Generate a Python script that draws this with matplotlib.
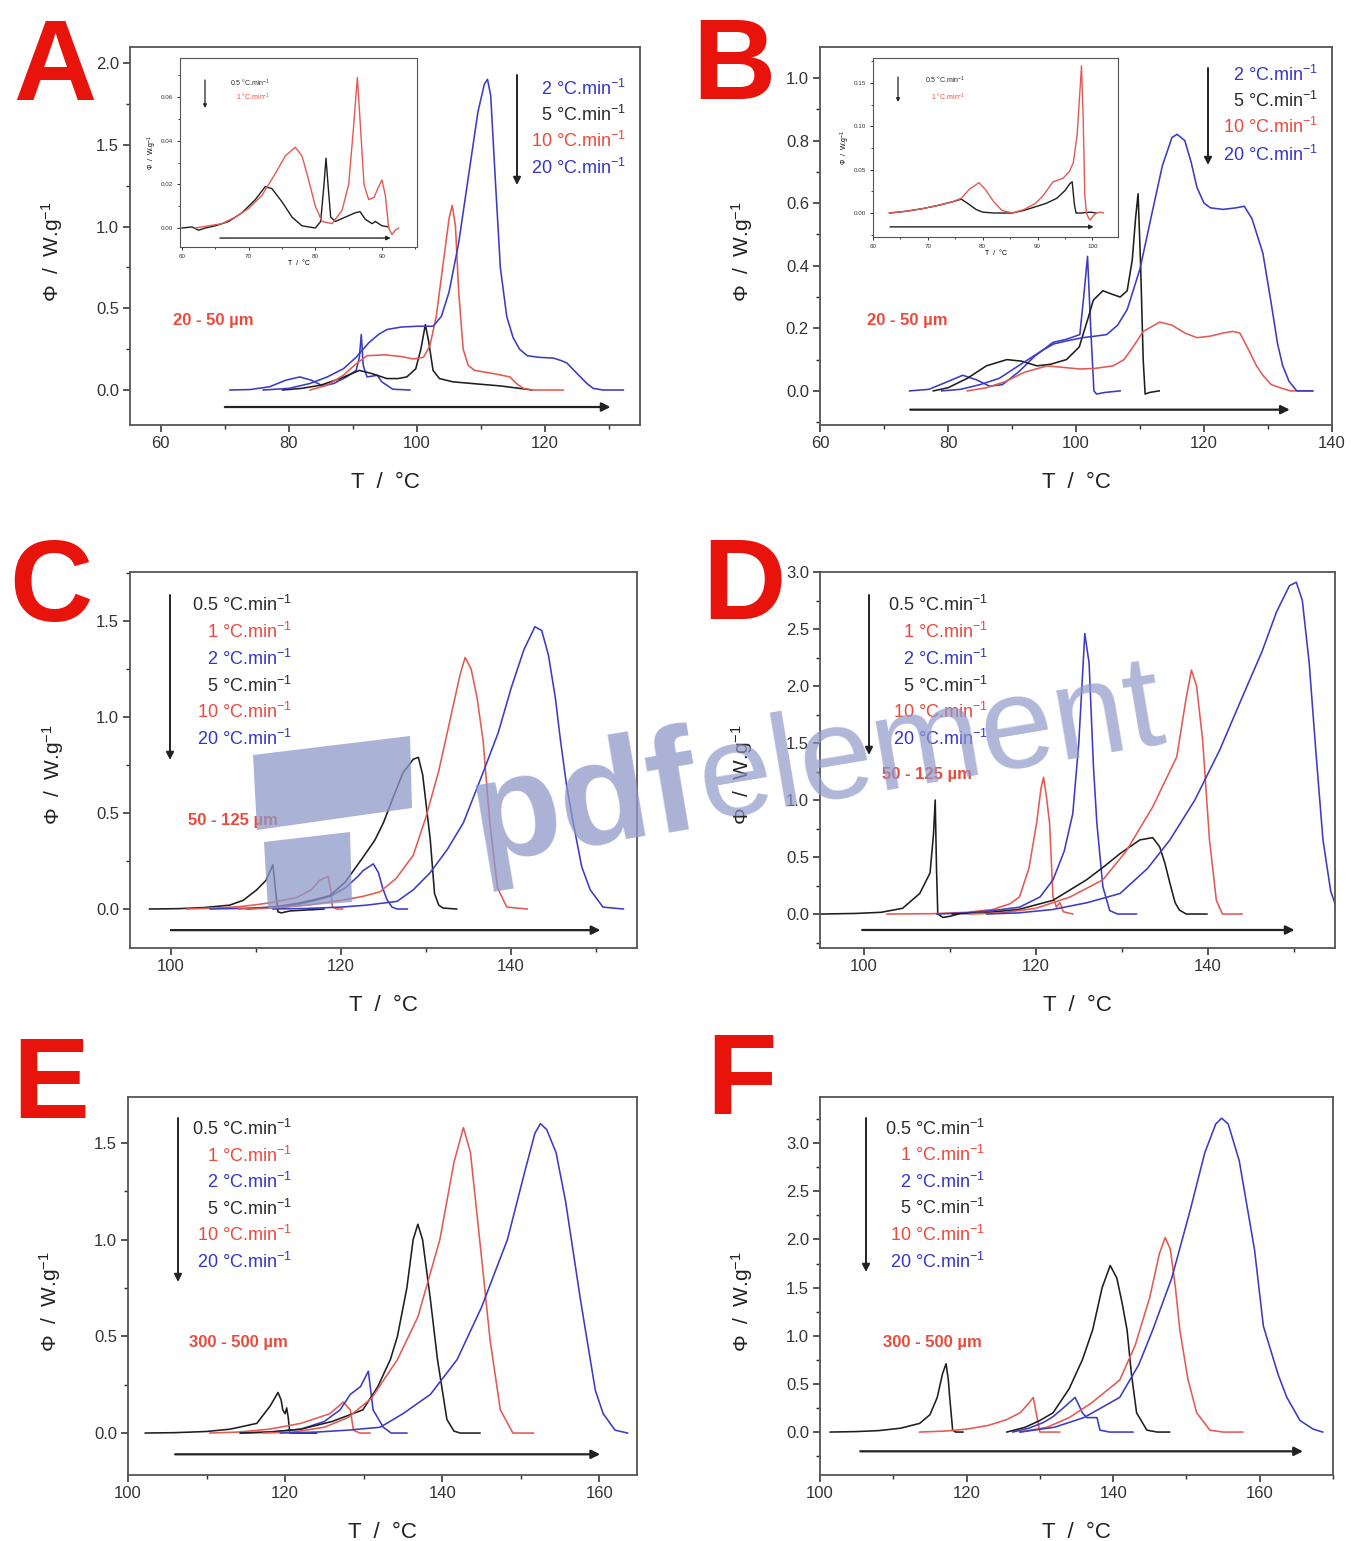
import matplotlib.pyplot as plt
from matplotlib.patches import Polygon, FancyArrowPatch
from matplotlib.ticker import MultipleLocator, FormatStrFormatter

plt.rcParams['font.family'] = ['Liberation Sans', 'DejaVu Sans']
plt.rcParams['mathtext.fontset'] = 'custom'
plt.rcParams['mathtext.rm'] = 'Liberation Sans'
plt.rcParams['mathtext.it'] = 'Liberation Sans'

# ---------------- data: (T / °C, heat flow / W.g-1) ----------------
# panel A : 20 - 50 um
a_2 = [(70.8, 0), (74, 0.003), (77, 0.02), (79.5, 0.06), (81.7, 0.08), (83.5, 0.06), (85.3, 0.025),
       (87, 0.04), (89, 0.08), (90.5, 0.12), (91.0, 0.2), (91.3, 0.34), (91.6, 0.15), (92.2, 0.08),
       (93, 0.085), (93.8, 0.09), (94.5, 0.05), (96.2, 0.005), (98.9, 0.0)]
a_5 = [(79, 0), (82, 0.01), (85, 0.03), (88, 0.07), (91, 0.12), (93, 0.1), (95.3, 0.07), (97, 0.07),
       (98.4, 0.08), (99.8, 0.13), (100.6, 0.25), (101.3, 0.40), (101.8, 0.3), (102.5, 0.12),
       (103.5, 0.07), (105.6, 0.05), (110, 0.035), (113, 0.025), (116, 0.01), (118, 0.0)]
a_10 = [(83.3, 0), (86, 0.03), (88.5, 0.09), (90.5, 0.16), (92.2, 0.21), (95, 0.215), (97.5, 0.205),
        (99.4, 0.19), (101, 0.2), (102, 0.27), (103, 0.45), (104, 0.75), (105, 1.05), (105.5, 1.13),
        (106, 1.0), (106.5, 0.6), (107.2, 0.25), (108, 0.15), (109, 0.12), (112, 0.1), (114.5, 0.08),
        (115.5, 0.04), (116.6, 0.01), (118, 0.0), (122.8, 0.0)]
a_20 = [(76, 0), (80, 0.01), (83.3, 0.04), (86, 0.08), (88.5, 0.13), (90.5, 0.2), (92.5, 0.29),
        (94, 0.34), (95.3, 0.37), (97.5, 0.385), (100, 0.39), (102.5, 0.39), (103.8, 0.45), (105, 0.6),
        (106.5, 0.9), (108, 1.3), (109.5, 1.7), (110.5, 1.87), (111, 1.9), (111.5, 1.8), (112.2, 1.3),
        (113, 0.75), (114, 0.45), (115, 0.32), (116, 0.25), (117.2, 0.21), (119, 0.2), (121.3, 0.195),
        (122.5, 0.18), (123.4, 0.165), (125, 0.1), (126.5, 0.04), (127.5, 0.01), (129, 0), (132.2, 0)]
ia_05 = [(60, 0.0), (61.5, 0.0005), (62.5, -0.001), (63.5, 0.0), (65, 0.001), (67, 0.003), (69, 0.007),
         (71, 0.013), (72.5, 0.019), (73.5, 0.018), (75, 0.012), (76.5, 0.005), (78, 0.001), (80, 0.0),
         (80.8, 0.003), (81.3, 0.02), (81.6, 0.032), (81.9, 0.02), (82.3, 0.005), (83, 0.003),
         (84.5, 0.005), (86, 0.007), (86.7, 0.0075), (87.5, 0.004), (88.5, 0.002), (89, 0.003),
         (90, 0.001), (91, 0.0005)]
ia_1 = [(62, 0), (64, 0.001), (66, 0.002), (68, 0.005), (70, 0.009), (72, 0.015), (74, 0.025),
        (75.5, 0.033), (77, 0.037), (78, 0.033), (79, 0.022), (80, 0.01), (81, 0.003), (82.5, 0.002),
        (84, 0.008), (85, 0.02), (85.7, 0.045), (86.3, 0.069), (86.8, 0.045), (87.3, 0.02), (88, 0.013),
        (88.8, 0.014), (89.5, 0.019), (90, 0.022), (90.5, 0.015), (91, 0.0), (91.5, -0.003),
        (92, -0.001), (92.5, 0.0)]

# panel B : 20 - 50 um
b_2 = [(74, 0), (77, 0.005), (80, 0.03), (82.3, 0.05), (84.5, 0.035), (86.5, 0.015), (88.5, 0.02),
       (91, 0.06), (93.5, 0.11), (96.4, 0.155), (98.5, 0.165), (100.6, 0.18), (101.2, 0.3),
       (101.8, 0.43), (102.3, 0.2), (102.8, 0.0), (103.2, -0.01), (104.5, -0.005), (106.9, 0.0)]
b_5 = [(77.7, 0), (80, 0.01), (83, 0.04), (86, 0.08), (89.2, 0.10), (91.5, 0.095), (93.9, 0.08),
       (96, 0.085), (98.5, 0.1), (100.5, 0.14), (102, 0.24), (102.7, 0.29), (104.2, 0.32), (105.5, 0.31),
       (106.9, 0.30), (108, 0.32), (108.8, 0.42), (109.3, 0.55), (109.7, 0.63), (110.1, 0.4),
       (110.5, 0.1), (110.8, -0.01), (111.5, -0.005), (113, 0.0)]
b_10 = [(83, 0), (86, 0.01), (89, 0.03), (92, 0.06), (95.5, 0.08), (98, 0.075), (100.6, 0.07),
        (103, 0.072), (105.8, 0.08), (107.5, 0.1), (108.9, 0.14), (110.5, 0.19), (113.1, 0.22),
        (115, 0.21), (117, 0.185), (118.9, 0.17), (121, 0.175), (123, 0.185), (124.5, 0.19),
        (125.6, 0.185), (127, 0.13), (128.2, 0.08), (129.2, 0.05), (130.5, 0.02), (131.9, 0.01),
        (133.5, 0.0), (137, 0.0)]
b_20 = [(79, 0), (82, 0.005), (85, 0.02), (88, 0.04), (91, 0.08), (94.4, 0.125), (96.5, 0.15),
        (98.6, 0.16), (101, 0.17), (103, 0.175), (104.8, 0.18), (106.5, 0.21), (108, 0.26), (110, 0.39),
        (112, 0.58), (113.5, 0.72), (115, 0.81), (115.8, 0.82), (117, 0.8), (118, 0.73), (118.9, 0.65),
        (120, 0.6), (121, 0.585), (123, 0.58), (125, 0.585), (126.3, 0.59), (127.5, 0.55),
        (129.2, 0.44), (130.5, 0.28), (131.5, 0.15), (132.3, 0.08), (133.3, 0.03), (134.5, 0.0),
        (137, 0.0)]
ib_05 = [(63, 0), (66, 0.002), (69, 0.005), (72, 0.009), (74.5, 0.013), (76.1, 0.016), (77.5, 0.01),
         (78.8, 0.004), (80, 0.001), (82, 0.0), (85.4, 0.0), (87.5, 0.003), (89.5, 0.007),
         (91.5, 0.011), (93.5, 0.017), (95, 0.026), (95.9, 0.034), (96.3, 0.036), (96.7, 0.01),
         (97, 0.0), (98, 0.0), (99.6, 0.001), (100.7, 0.0)]
ib_1 = [(63, 0), (66, 0.002), (69, 0.005), (72, 0.009), (74.5, 0.013), (76.1, 0.017), (77.5, 0.027),
        (79.3, 0.035), (80.5, 0.027), (82, 0.013), (83.5, 0.003), (85.4, 0.0), (87.5, 0.004),
        (89.6, 0.011), (91, 0.02), (92.8, 0.036), (94.6, 0.04), (95.8, 0.048), (96.5, 0.058),
        (97.2, 0.09), (97.7, 0.14), (98, 0.17), (98.3, 0.11), (98.6, 0.02), (98.9, 0.0),
        (99.3, -0.006), (99.6, -0.008), (100.2, -0.003), (100.7, 0.0), (101.5, 0.001), (102, 0.0)]

# panel C : 50 - 125 um
c_05 = [(97.5, 0), (101, 0.002), (104, 0.008), (106.9, 0.02), (108.5, 0.045), (110.1, 0.1),
        (111.2, 0.15), (112, 0.23), (112.3, 0.1), (112.6, -0.015), (113, -0.02), (114, -0.01),
        (116, -0.005), (118, 0.0)]
c_1 = [(101.9, 0), (105, 0.005), (108, 0.012), (110, 0.022), (112, 0.035), (114.8, 0.06),
       (116.5, 0.1), (117.5, 0.15), (118.5, 0.17), (118.8, 0.1), (119, 0.01), (119.5, 0.0), (120.2, 0.0)]
c_2 = [(104.6, 0), (108, 0.003), (111, 0.008), (112.8, 0.01), (115, 0.025), (117, 0.045),
       (118.7, 0.065), (120.5, 0.11), (122, 0.17), (122.6, 0.2), (123.8, 0.235), (124.4, 0.19),
       (124.9, 0.11), (125.4, 0.05), (126, 0.01), (126.6, 0.0), (127.8, 0.0)]
c_5 = [(109, 0), (112, 0.01), (115, 0.03), (117, 0.05), (118.7, 0.07), (120.5, 0.14), (122.6, 0.27),
       (124, 0.36), (125, 0.45), (126.3, 0.6), (127.3, 0.71), (128.5, 0.78), (129.1, 0.79),
       (129.6, 0.7), (130, 0.55), (130.5, 0.36), (131, 0.08), (131.5, 0.02), (132, 0.005), (133.6, 0.0)]
c_10 = [(108, 0), (112, 0.005), (116, 0.02), (120, 0.045), (122.5, 0.065), (124.6, 0.09),
        (126.5, 0.16), (128.5, 0.28), (130, 0.48), (131.5, 0.72), (132.8, 0.98), (134, 1.22),
        (134.6, 1.31), (135.3, 1.25), (136, 1.1), (136.7, 0.88), (137.5, 0.45), (138.4, 0.11),
        (139.5, 0.01), (141.9, 0.0)]
c_20 = [(112, 0), (116, 0.003), (120, 0.01), (123, 0.02), (126.6, 0.04), (128.5, 0.1), (130.5, 0.19),
        (132.5, 0.31), (134.4, 0.45), (136.7, 0.71), (138.5, 0.92), (140, 1.15), (141.5, 1.35),
        (142.8, 1.47), (143.6, 1.45), (144.4, 1.32), (145.2, 1.1), (145.8, 0.88), (146.5, 0.65),
        (147.3, 0.45), (148.3, 0.22), (149.3, 0.1), (150.8, 0.01), (153.2, 0)]

# panel D : 50 - 125 um
d_05 = [(95, 0), (99, 0.005), (102, 0.015), (104.5, 0.05), (106.5, 0.18), (107.7, 0.36),
        (108.1, 0.7), (108.3, 1.0), (108.45, 0.4), (108.6, 0.0), (109.2, -0.03), (110, -0.02), (111, 0.0)]
d_1 = [(102.7, 0), (108, 0.003), (112, 0.015), (115, 0.04), (117, 0.09), (118.1, 0.15), (119.2, 0.4),
       (120.1, 0.8), (120.6, 1.1), (120.9, 1.2), (121.2, 1.05), (121.6, 0.8), (122, 0.15),
       (122.4, 0.06), (122.8, 0.1), (123.2, 0.02), (124.3, 0.0)]
d_2 = [(108.5, 0), (112, 0.01), (115, 0.03), (118.1, 0.06), (120.5, 0.15), (122, 0.3), (123.3, 0.55),
       (124.3, 0.88), (125, 1.5), (125.7, 2.46), (126.2, 2.2), (126.7, 1.3), (127.1, 0.8),
       (127.8, 0.24), (128.6, 0.03), (129.5, 0.0), (131.7, 0.0)]
d_5 = [(110.3, 0), (114, 0.01), (118, 0.04), (122, 0.12), (125.9, 0.3), (128, 0.42), (129.8, 0.53),
       (132.1, 0.65), (133.6, 0.67), (134.4, 0.59), (135, 0.45), (135.6, 0.27), (136.2, 0.1),
       (136.7, 0.035), (137.5, 0.0), (139.9, 0.0)]
d_10 = [(112.3, 0), (116, 0.01), (120, 0.05), (124, 0.15), (127.8, 0.3), (130.5, 0.55), (133.6, 0.94),
        (136.4, 1.38), (137.5, 1.9), (138.1, 2.14), (138.7, 2.0), (139.4, 1.53), (140.2, 0.65),
        (141, 0.12), (141.7, 0.0), (144, 0.0)]
d_20 = [(114.3, 0), (118, 0.01), (122, 0.04), (126, 0.1), (129.8, 0.18), (133, 0.4), (135.6, 0.65),
        (138.5, 1.0), (141.4, 1.44), (144, 1.9), (146.3, 2.3), (148, 2.65), (149.5, 2.88),
        (150.3, 2.91), (151, 2.75), (151.8, 2.2), (152.6, 1.4), (153.4, 0.65), (154.3, 0.2), (155, 0.05)]

# panel E : 300 - 500 um
e_05 = [(102.2, 0), (106, 0.002), (110, 0.008), (113, 0.02), (116.4, 0.05), (118.1, 0.14),
        (119.1, 0.21), (119.5, 0.17), (119.7, 0.12), (120.0, 0.1), (120.2, 0.13), (120.4, 0.08),
        (120.6, 0.0), (122, 0.0), (124, 0.0)]
e_1 = [(110.4, 0), (114, 0.005), (118, 0.02), (122, 0.05), (125.7, 0.1), (127.4, 0.16), (128.3, 0.12),
       (128.7, 0.015), (129.5, 0.0), (130.8, 0.0)]
e_2 = [(114.3, 0), (118, 0.005), (122, 0.02), (125, 0.06), (127, 0.12), (128.3, 0.2), (129.6, 0.24),
       (130.6, 0.32), (131.2, 0.12), (132.5, 0.03), (133.5, 0.0), (135.5, 0.0)]
e_5 = [(114.3, 0), (118, 0.005), (122, 0.02), (126, 0.06), (129.9, 0.12), (131.8, 0.24), (133.4, 0.38),
       (134.3, 0.5), (135.5, 0.75), (136.3, 1.0), (136.9, 1.08), (137.5, 1.0), (138.5, 0.69),
       (139.4, 0.38), (140.6, 0.07), (141.5, 0.01), (142.3, 0.0), (144.8, 0.0)]
e_10 = [(117.2, 0), (121, 0.005), (125, 0.03), (128, 0.08), (131, 0.18), (134.3, 0.38), (136.9, 0.6),
        (139.7, 1.0), (141.5, 1.4), (142.7, 1.58), (143.6, 1.45), (144.9, 0.95), (146.1, 0.48),
        (147.4, 0.12), (149, 0.0), (151.6, 0.0)]
e_20 = [(119.4, 0), (124, 0.005), (128, 0.015), (132.1, 0.03), (135, 0.1), (138.5, 0.2), (141.9, 0.38),
        (145, 0.65), (148.3, 1.0), (150.5, 1.35), (151.8, 1.55), (152.5, 1.6), (153.3, 1.57),
        (154.5, 1.45), (155.7, 1.2), (157.6, 0.69), (159.5, 0.22), (160.5, 0.1), (162, 0.015),
        (163.6, 0.0)]

# panel F : 300 - 500 um
f_05 = [(101.4, 0), (105, 0.005), (108, 0.015), (111, 0.04), (113.6, 0.09), (115, 0.18), (116, 0.36),
        (116.7, 0.6), (117.2, 0.71), (117.5, 0.55), (117.7, 0.36), (118.1, 0.02), (118.5, 0.0),
        (119.5, 0.0)]
f_1 = [(113.6, 0), (117, 0.01), (120, 0.03), (123, 0.07), (125.5, 0.13), (127.3, 0.2), (128.5, 0.3),
       (129.1, 0.36), (129.6, 0.16), (130, 0.0), (132.7, 0.0)]
f_2 = [(126.3, 0), (128.5, 0.04), (130.5, 0.1), (131.8, 0.16), (133.5, 0.27), (134.8, 0.36),
       (135.2, 0.3), (135.8, 0.2), (136.4, 0.15), (137.8, 0.15), (138.2, 0.02), (139.5, 0.0), (142.7, 0.0)]
f_5 = [(125.5, 0), (128, 0.05), (130, 0.12), (131.8, 0.2), (134, 0.45), (135.8, 0.75), (137.2, 1.06),
       (138.5, 1.5), (139.6, 1.73), (140.5, 1.6), (141.2, 1.35), (141.9, 1.06), (142.5, 0.6),
       (143.2, 0.2), (144.6, 0.02), (146, 0.0), (147.7, 0.0)]
f_10 = [(127.3, 0), (131, 0.05), (134, 0.15), (137, 0.3), (140.9, 0.54), (143, 0.9), (145, 1.4),
        (146.3, 1.85), (147.1, 2.02), (147.8, 1.9), (148.5, 1.5), (149.1, 1.06), (150.2, 0.55),
        (151.4, 0.2), (153.2, 0.02), (155, 0.0), (157.7, 0.0)]
f_20 = [(127.3, 0), (132, 0.05), (136, 0.15), (140.9, 0.36), (143.5, 0.7), (145.4, 1.06), (148, 1.6),
        (150.5, 2.3), (152.5, 2.9), (154, 3.2), (154.8, 3.26), (155.7, 3.2), (157.2, 2.82),
        (159.3, 1.89), (160.5, 1.1), (162.5, 0.6), (163.7, 0.36), (165.5, 0.12), (167.3, 0.03),
        (168.6, 0.0)]

rates_ab = ['2', '5', '10', '20']
rates_cf = ['0.5', '1', '2', '5', '10', '20']
sizes = ['20 - 50 µm', '20 - 50 µm', '50 - 125 µm', '50 - 125 µm', '300 - 500 µm', '300 - 500 µm']

# ---------------- styling ----------------
W, H = 1351, 1541
BLACK, RED, BLUE = '#1e1e1e', '#e35a52', '#3b3bc6'
TBLACK, TRED, TBLUE = '#2a2a2a', '#ea4a3c', '#3535c8'
BIGRED = '#e8140c'
col_ab = [BLUE, BLACK, RED, BLUE]
tcol_ab = [TBLUE, TBLACK, TRED, TBLUE]
col_cf = [BLACK, RED, BLUE, BLACK, RED, BLUE]
tcol_cf = [TBLACK, TRED, TBLUE, TBLACK, TRED, TBLUE]

fig = plt.figure(figsize=(W / 100, H / 100), dpi=100)


def fx(x):
    return x / W


def fy(y):
    return 1 - y / H


def box(l, t, r, b):
    return fig.add_axes([fx(l), fy(b), (r - l) / W, (b - t) / H])


def style(ax, xlim, ylim, xmaj, xmin, ymaj, ymin, fmt, fs=12, lw=1.3, tl=5):
    ax.set_xlim(*xlim)
    ax.set_ylim(*ylim)
    ax.xaxis.set_major_locator(MultipleLocator(xmaj))
    ax.xaxis.set_minor_locator(MultipleLocator(xmin))
    ax.yaxis.set_major_locator(MultipleLocator(ymaj))
    ax.yaxis.set_minor_locator(MultipleLocator(ymin))
    ax.yaxis.set_major_formatter(FormatStrFormatter(fmt))
    ax.tick_params(which='major', direction='out', length=tl, width=lw * 0.9, labelsize=fs,
                   colors='#333333', pad=3)
    ax.tick_params(which='minor', direction='out', length=tl * 0.6, width=lw * 0.8, colors='#333333')
    for s in ax.spines.values():
        s.set_color('#555555')
        s.set_linewidth(lw)


def curves(ax, data, cols, lw=1.15):
    for d, c in zip(data, cols):
        t, y = zip(*d)
        ax.plot(t, y, color=c, lw=lw)


def harrow(ax, t1, t2, y, lw=1.6, ms=13):
    ax.annotate('', xy=(t2, y), xytext=(t1, y),
                arrowprops=dict(arrowstyle='-|>', color='#222222', lw=lw, mutation_scale=ms,
                                shrinkA=0, shrinkB=0))


def varrow(x, y1, y2, lw=1.4, ms=11):
    fig.add_artist(FancyArrowPatch((fx(x), fy(y1)), (fx(x), fy(y2)), transform=fig.transFigure,
                                   arrowstyle='-|>', mutation_scale=ms, lw=lw, color='#222222',
                                   shrinkA=0, shrinkB=0))


def legend(rates, tcols, xr, ys, fs=13):
    for r, c, y in zip(rates, tcols, ys):
        fig.text(fx(xr), fy(y), r + ' °C.min$^{-1}$', color=c, fontsize=fs, ha='right', va='center')


def labels(ax, ylab_x=-0.127, ylab_y=0.46, xlab_y=-0.125):
    ax.set_xlabel('T  /  °C', fontsize=16, color='#222222')
    ax.set_ylabel('Φ  /  W.g$^{-1}$', fontsize=15, color='#222222')
    ax.yaxis.set_label_coords(ylab_x, ylab_y)
    ax.xaxis.set_label_coords(0.5, xlab_y)


# ---------------- panel A ----------------
axA = box(130, 47, 640, 425)
style(axA, (55.2, 134.8), (-0.214, 2.098), 20, 10, 0.5, 0.25, '%.1f')
curves(axA, [a_2, a_5, a_10, a_20], col_ab)
harrow(axA, 70, 130.2, -0.104)
labels(axA)
legend(rates_ab, tcol_ab, 626, [89, 115, 141, 168])
varrow(517, 75, 185)
fig.text(fx(213), fy(321), sizes[0], color=TRED, fontsize=12, weight='bold', ha='center', va='center')

insA = box(180, 58, 417, 247)
style(insA, (59.7, 95.25), (-0.0087, 0.0779), 10, 5, 0.02, 0.01, '%.2f', fs=4.5, lw=0.8, tl=2)
curves(insA, [ia_05, ia_1], [BLACK, RED], lw=1.0)
harrow(insA, 65.7, 91.3, -0.0046, lw=1.0, ms=6)
insA.set_xlabel('T  /  °C', fontsize=5, labelpad=1)
insA.set_ylabel('Φ  /  W.g$^{-1}$', fontsize=5, labelpad=1)
fig.text(fx(270), fy(83), '0.5 °C.min$^{-1}$', color=TBLACK, fontsize=5, ha='right', va='center')
fig.text(fx(270), fy(97), '1 °C.min$^{-1}$', color=TRED, fontsize=5, ha='right', va='center')
varrow(205, 80, 108, lw=0.9, ms=5)

# ---------------- panel B ----------------
axB = box(820, 47, 1332, 425)
style(axB, (60, 140), (-0.109, 1.099), 20, 10, 0.2, 0.1, '%.1f')
curves(axB, [b_2, b_5, b_10, b_20], col_ab)
harrow(axB, 74.1, 133.4, -0.06)
labels(axB)
legend(rates_ab, tcol_ab, 1318, [75, 101, 127, 155])
varrow(1208, 68, 165)
fig.text(fx(907), fy(321), sizes[1], color=TRED, fontsize=12, weight='bold', ha='center', va='center')

insB = box(873, 58, 1118, 237)
style(insB, (60, 104.65), (-0.0277, 0.179), 10, 5, 0.05, 0.025, '%.2f', fs=4.5, lw=0.8, tl=2)
curves(insB, [ib_05, ib_1], [BLACK, RED], lw=1.0)
harrow(insB, 63.1, 100.2, -0.016, lw=1.0, ms=6)
insB.set_xlabel('T  /  °C', fontsize=5, labelpad=1)
insB.set_ylabel('Φ  /  W.g$^{-1}$', fontsize=5, labelpad=1)
fig.text(fx(965), fy(80), '0.5 °C.min$^{-1}$', color=TBLACK, fontsize=5, ha='right', va='center')
fig.text(fx(965), fy(97), '1 °C.min$^{-1}$', color=TRED, fontsize=5, ha='right', va='center')
varrow(898, 77, 102, lw=0.9, ms=5)

# ---------------- panel C ----------------
axC = box(130, 572, 637, 948)
style(axC, (95.2, 154.8), (-0.203, 1.755), 20, 10, 0.5, 0.25, '%.1f')
curves(axC, [c_05, c_1, c_2, c_5, c_10, c_20], col_cf)
harrow(axC, 100, 150.5, -0.11)
labels(axC)
legend(rates_cf, tcol_cf, 292, [605, 632, 659, 686, 712, 739])
varrow(170, 595, 760)
fig.text(fx(233), fy(820), sizes[2], color=TRED, fontsize=12, weight='bold', ha='center', va='center')

# ---------------- panel D ----------------
axD = box(820, 572, 1335, 948)
style(axD, (94.9, 154.8), (-0.298, 3.0), 20, 10, 0.5, 0.25, '%.1f')
curves(axD, [d_05, d_1, d_2, d_5, d_10, d_20], col_cf)
harrow(axD, 99.8, 150.1, -0.14)
labels(axD)
legend(rates_cf, tcol_cf, 988, [605, 632, 659, 686, 712, 739])
varrow(869, 595, 755)
fig.text(fx(927), fy(774), sizes[3], color=TRED, fontsize=12, weight='bold', ha='center', va='center')

# ---------------- panel E ----------------
axE = box(128, 1097, 637, 1475)
style(axE, (100, 164.8), (-0.217, 1.738), 20, 10, 0.5, 0.25, '%.1f')
curves(axE, [e_05, e_1, e_2, e_5, e_10, e_20], col_cf)
harrow(axE, 106, 160.1, -0.11)
labels(axE)
legend(rates_cf, tcol_cf, 292, [1129, 1156, 1182, 1209, 1235, 1262])
varrow(178, 1118, 1282)
fig.text(fx(238), fy(1342), sizes[4], color=TRED, fontsize=12, weight='bold', ha='center', va='center')

# ---------------- panel F ----------------
axF = box(820, 1097, 1333, 1475)
style(axF, (100, 170), (-0.446, 3.48), 20, 10, 0.5, 0.25, '%.1f')
curves(axF, [f_05, f_1, f_2, f_5, f_10, f_20], col_cf)
harrow(axF, 105.5, 165.9, -0.2)
labels(axF)
legend(rates_cf, tcol_cf, 985, [1129, 1155, 1182, 1208, 1235, 1262])
varrow(866, 1118, 1272)
fig.text(fx(932), fy(1342), sizes[5], color=TRED, fontsize=12, weight='bold', ha='center', va='center')

# ---------------- panel letters ----------------
for letter, x, y in [('A', 13, 100), ('B', 692, 99), ('C', 9, 621),
                     ('D', 702, 619), ('E', 12, 1118), ('F', 706, 1114)]:
    fig.text(fx(x), fy(y), letter, color=BIGRED, fontsize=83, weight='bold', ha='left', va='baseline')

# ---------------- watermark ----------------
WM = '#8e98c8'
fig.add_artist(Polygon([(fx(253), fy(755)), (fx(410), fy(736)), (fx(412), fy(808)), (fx(257), fy(830))],
                       closed=True, transform=fig.transFigure, color=WM, alpha=0.75, lw=0, zorder=5))
fig.add_artist(Polygon([(fx(264), fy(842)), (fx(350), fy(832)), (fx(352), fy(902)), (fx(268), fy(909))],
                       closed=True, transform=fig.transFigure, color=WM, alpha=0.75, lw=0, zorder=5))
fig.text(fx(478), fy(862), 'pdf', color=WM, alpha=0.75, fontsize=106, weight='bold', rotation=9.6,
         rotation_mode='anchor', ha='left', va='baseline', zorder=5)
fig.text(fx(705), fy(820), 'element', color=WM, alpha=0.7, fontsize=95, rotation=9.6,
         rotation_mode='anchor', ha='left', va='baseline', zorder=5)

fig.savefig('out.png', dpi=100)
